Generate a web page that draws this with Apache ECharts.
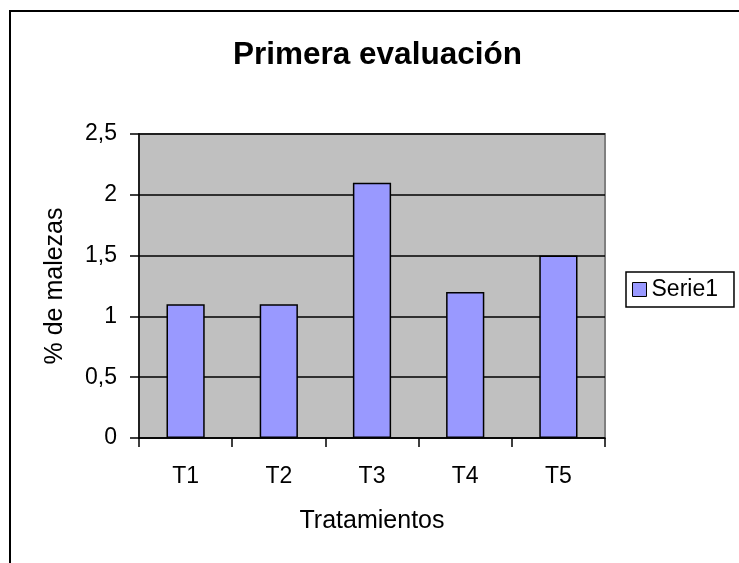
<!DOCTYPE html>
<html>
<head>
<meta charset="utf-8">
<title>Primera evaluación</title>
<script src="https://cdn.jsdelivr.net/npm/echarts@6/dist/echarts.min.js"></script>
<style>
  html, body { margin: 0; padding: 0; background: #fff; }
  #main { width: 739px; height: 563px; }
</style>
</head>
<body>
<div id="main"></div>
<script>
  // datos
  var categorias = ['T1', 'T2', 'T3', 'T4', 'T5'];
  var serie1 = [1.1, 1.1, 2.1, 1.2, 1.5];
  var nombreSerie = 'Serie1';

  var fuente = '"Liberation Sans", Arial, sans-serif';

  var myChart = echarts.init(document.getElementById('main'), null, { renderer: 'canvas' });

  var option = {
    backgroundColor: '#ffffff',
    animation: false,
    title: {
      text: 'Primera evaluación',
      left: 233,
      top: 39,
      padding: 0,
      textStyle: {
        fontFamily: fuente,
        fontSize: 31.5,
        fontWeight: 'bold',
        color: '#000'
      }
    },
    // marco exterior del grafico
    graphic: [{
      type: 'rect',
      shape: { x: 10, y: 11, width: 800, height: 700 },
      style: { fill: 'none', stroke: '#000', lineWidth: 2 },
      silent: true
    }],
    legend: {
      data: [nombreSerie],
      left: 626,
      top: 272,
      orient: 'vertical',
      padding: [6, 16, 6, 6],
      itemGap: 0,
      itemWidth: 14,
      itemHeight: 14,
      borderColor: '#000',
      borderWidth: 1.5,
      backgroundColor: '#fff',
      icon: 'rect',
      itemStyle: { borderColor: '#000', borderWidth: 1 },
      textStyle: {
        fontFamily: fuente,
        fontSize: 23,
        color: '#000',
        padding: [0, 0, 0, 0]
      }
    },
    grid: {
      left: 139,
      right: 134,
      top: 134,
      bottom: 125,
      show: true,
      backgroundColor: '#c0c0c0',
      borderColor: '#808080',
      borderWidth: 2
    },
    xAxis: {
      type: 'category',
      data: categorias,
      name: 'Tratamientos',
      nameLocation: 'middle',
      nameGap: 71,
      nameTextStyle: { fontFamily: fuente, fontSize: 25, color: '#000' },
      axisLine: { show: true, lineStyle: { color: '#000', width: 1.5 } },
      axisTick: { show: true, alignWithLabel: false, length: 9, lineStyle: { color: '#000', width: 1.5 } },
      axisLabel: { margin: 27, fontFamily: fuente, fontSize: 23, color: '#000' },
      splitLine: { show: false }
    },
    yAxis: {
      type: 'value',
      min: 0,
      max: 2.5,
      interval: 0.5,
      name: '% de malezas',
      nameLocation: 'middle',
      nameGap: 71,
      nameTextStyle: { fontFamily: fuente, fontSize: 25, color: '#000' },
      axisLine: { show: true, lineStyle: { color: '#000', width: 1.5 } },
      axisTick: { show: true, length: 9, lineStyle: { color: '#000', width: 1.5 } },
      axisLabel: {
        margin: 22,
        fontFamily: fuente,
        fontSize: 23,
        color: '#000',
        formatter: function (v) { return String(v).replace('.', ','); }
      },
      splitLine: { show: true, lineStyle: { color: '#000', width: 1.5 } }
    },
    series: [{
      name: nombreSerie,
      type: 'bar',
      data: serie1,
      barWidth: '41%',
      itemStyle: {
        color: '#9999ff',
        borderColor: '#000',
        borderWidth: 1.5
      }
    }]
  };

  myChart.setOption(option);
</script>
</body>
</html>
